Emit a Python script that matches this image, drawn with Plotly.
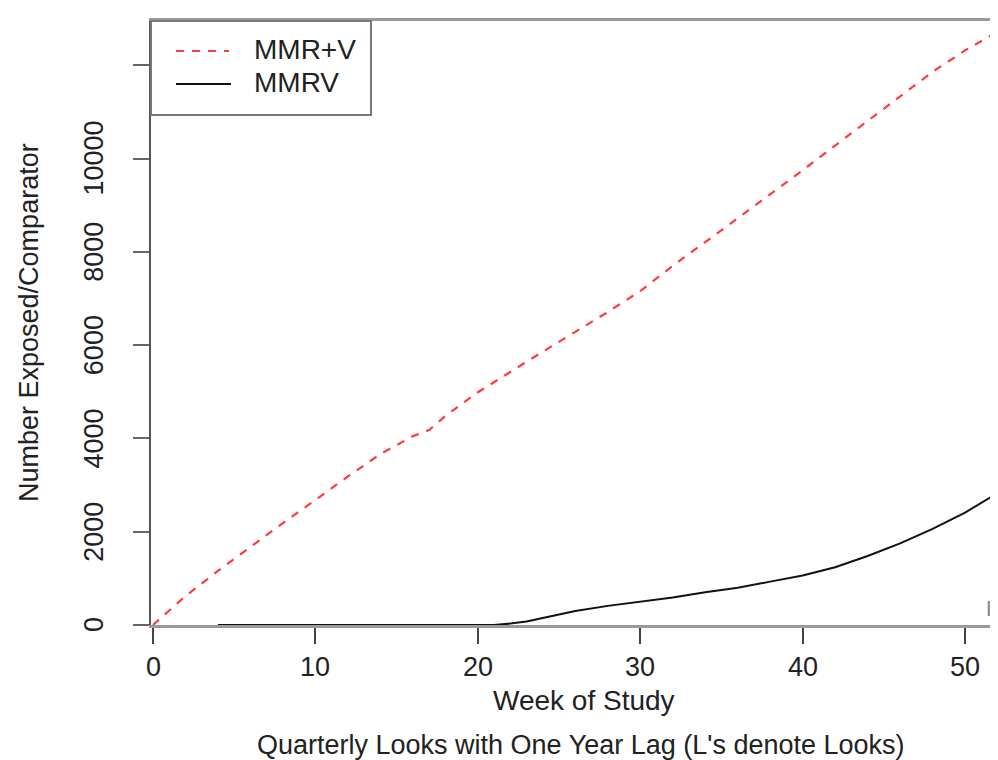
import plotly.graph_objects as go

# ---- data ----
weeks_mmr_v = [0, 2, 4, 6, 8, 10, 12, 14, 16, 17, 18, 20, 22, 24, 26, 28, 30,
               32, 34, 36, 38, 40, 42, 44, 46, 48, 50, 52]
mmr_v = [0, 620, 1160, 1680, 2185, 2680, 3185, 3665, 4050, 4180, 4480, 4990,
         5430, 5860, 6285, 6710, 7160, 7700, 8210, 8720, 9230, 9750, 10280,
         10800, 11320, 11860, 12320, 12720]

weeks_mmrv = [4, 8, 12, 16, 20, 21, 22, 23, 24, 25, 26, 28, 30, 32, 34, 36,
              38, 40, 42, 44, 46, 48, 50, 52]
mmrv = [0, 0, 0, 0, 0, 0, 30, 75, 150, 230, 300, 410, 500, 590, 700, 800,
        930, 1060, 1240, 1480, 1750, 2060, 2410, 2830]

x_ticks = [0, 10, 20, 30, 40, 50]
x_ticktext = ["0", "10", "20", "30", "40", "50"]
y_ticks = [0, 2000, 4000, 6000, 8000, 10000, 12000]
y_ticktext = ["0", "2000", "4000", "6000", "8000", "10000", ""]
look_weeks = [52]
look_labels = ["L1"]

FONT = "Liberation Sans, Arial, sans-serif"
FS = 27

fig = go.Figure()
fig.add_trace(go.Scatter(x=weeks_mmr_v, y=mmr_v, mode="lines", name="MMR+V",
                         line=dict(color="#ff3b3b", width=2.2, dash="8px,8px"),
                         showlegend=False))
fig.add_trace(go.Scatter(x=weeks_mmrv, y=mmrv, mode="lines", name="MMRV",
                         line=dict(color="#111111", width=2),
                         showlegend=False))

W, H = 998, 760
L, R, T, B = 143, 0, 13, 143
pw = W - L - R
ph = H - T - B


def px_x(p):
    return (p - L) / pw


def px_y(p):
    return (H - B - p) / ph


shapes = []
annotations = []

# tick labels (placed on the axes' own scales)
for v, t in zip(x_ticks, x_ticktext):
    annotations.append(dict(xref="x", yref="paper", x=v, y=px_y(659),
                            xanchor="center", yanchor="middle", showarrow=False,
                            text=t, font=dict(family=FONT, size=FS, color="#222")))
for v, t in zip(y_ticks, y_ticktext):
    if t:
        annotations.append(dict(xref="paper", yref="y", x=px_x(86), y=v,
                                xanchor="center", yanchor="middle", showarrow=False,
                                textangle=-90, text=t,
                                font=dict(family=FONT, size=FS, color="#222")))

# legend box
shapes.append(dict(type="rect", xref="paper", yref="paper",
                   x0=px_x(143), x1=px_x(363), y0=px_y(107), y1=px_y(13),
                   line=dict(color="#777777", width=2), fillcolor="white", layer="above"))
shapes.append(dict(type="line", xref="paper", yref="paper",
                   x0=px_x(168), x1=px_x(221), y0=px_y(43), y1=px_y(43),
                   line=dict(color="#ff3b3b", width=2.2, dash="8px,8px")))
shapes.append(dict(type="line", xref="paper", yref="paper",
                   x0=px_x(168), x1=px_x(223), y0=px_y(76), y1=px_y(76),
                   line=dict(color="#111111", width=2)))
annotations.append(dict(xref="paper", yref="paper", x=px_x(244), y=px_y(42),
                        xanchor="left", yanchor="middle", showarrow=False,
                        text="MMR+V", font=dict(family=FONT, size=28, color="#222")))
annotations.append(dict(xref="paper", yref="paper", x=px_x(244), y=px_y(75),
                        xanchor="left", yanchor="middle", showarrow=False,
                        text="MMRV", font=dict(family=FONT, size=28, color="#222")))

# look labels
for wk, lab in zip(look_weeks, look_labels):
    annotations.append(dict(xref="x", yref="y", x=wk, y=0, xanchor="left",
                            yanchor="bottom", showarrow=False, text=lab, xshift=-14, yshift=2,
                            font=dict(family=FONT, size=22, color="#888888")))
    shapes.append(dict(type="line", xref="x", yref="paper", x0=wk, x1=wk,
                       y0=0, y1=-0.009, line=dict(color="#888888", width=1)))

# axis titles / caption
annotations.append(dict(xref="paper", yref="paper", x=px_x(576), y=px_y(692),
                        xanchor="center", yanchor="middle", showarrow=False,
                        text="Week of Study", font=dict(family=FONT, size=28, color="#222")))
annotations.append(dict(xref="paper", yref="paper", x=px_x(573), y=px_y(737),
                        xanchor="center", yanchor="middle", showarrow=False,
                        text="Quarterly Looks with One Year Lag (L's denote Looks)",
                        font=dict(family=FONT, size=27, color="#222")))
annotations.append(dict(xref="paper", yref="paper", x=px_x(21), y=px_y(315),
                        xanchor="center", yanchor="middle", showarrow=False, textangle=-90,
                        text="Number Exposed/Comparator", font=dict(family=FONT, size=FS, color="#222")))

fig.update_layout(
    width=W, height=H,
    margin=dict(l=L, r=R, t=T, b=B, pad=0),
    paper_bgcolor="white", plot_bgcolor="white",
    font=dict(family=FONT, size=FS, color="#222"),
    shapes=shapes, annotations=annotations,
    xaxis=dict(range=[-0.123, 52.52], tickvals=x_ticks, ticks="outside", ticklen=16,
               tickwidth=2, tickcolor="#444", showline=True, linecolor="#9a9a9a",
               linewidth=3, mirror=True, showgrid=False, zeroline=False,
               layer="below traces", showticklabels=False),
    yaxis=dict(range=[0, 12950], tickvals=y_ticks, ticks="outside", ticklen=16,
               tickwidth=2, tickcolor="#666", showline=True, linecolor="#555",
               linewidth=2, showgrid=False, zeroline=False, layer="below traces",
               showticklabels=False),
)

fig.write_html("out.html")
